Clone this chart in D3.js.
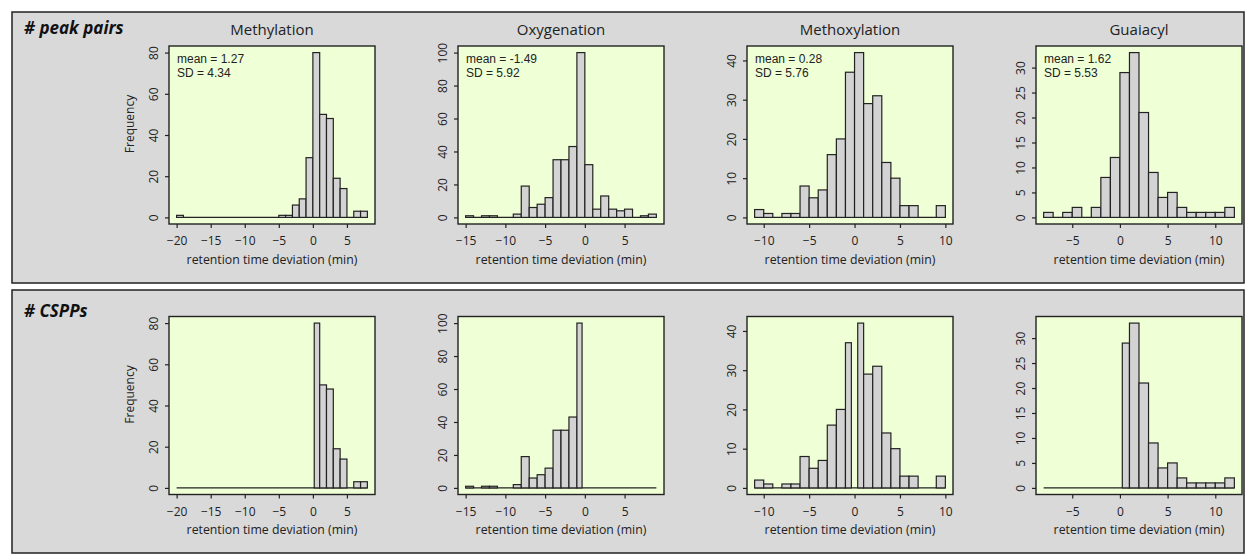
<!DOCTYPE html>
<html><head><meta charset="utf-8">
<script src="https://cdn.jsdelivr.net/npm/d3@7"></script>
<style>
body{margin:0;background:#fff;}
svg{display:block;}
text{fill:#222;}
</style>
</head><body>
<svg id="chart" width="1245" height="556" font-family="Open Sans, sans-serif"></svg>
<script>
// ---------- data ----------
const panelTitles = ["Methylation", "Oxygenation", "Methoxylation", "Guaiacyl"];
const rowLabels = ["# peak pairs", "# CSPPs"];
const meanLabels = ["1.27", "-1.49", "0.28", "1.62"];
const sdLabels = ["4.34", "5.92", "5.76", "5.53"];
const xTickValues = [[-20, -15, -10, -5, 0, 5], [-15, -10, -5, 0, 5], [-10, -5, 0, 5, 10], [-5, 0, 5, 10]];
const yTickValues = [[0, 20, 40, 60, 80], [0, 20, 40, 60, 80, 100], [0, 10, 20, 30, 40], [0, 5, 10, 15, 20, 25, 30]];
const xTitle = "retention time deviation (min)";
const yTitle = "Frequency";

// peak pairs: bin edges and counts
const pairsBreaks = [
  [-20,-19,-18,-17,-16,-15,-14,-13,-12,-11,-10,-9,-8,-7,-6,-5,-4,-3,-2,-1,0,1,2,3,4,5,6,7,8],
  [-15,-14,-13,-12,-11,-10,-9,-8,-7,-6,-5,-4,-3,-2,-1,0,1,2,3,4,5,6,7,8,9],
  [-11,-10,-9,-8,-7,-6,-5,-4,-3,-2,-1,0,1,2,3,4,5,6,7,8,9,10],
  [-8,-7,-6,-5,-4,-3,-2,-1,0,1,2,3,4,5,6,7,8,9,10,11,12]
];
const pairsCounts = [
  [1,0,0,0,0,0,0,0,0,0,0,0,0,0,0,1,1,6,9,29,80,50,48,19,14,0,3,3],
  [1,0,1,1,0,0,2,19,6,8,12,35,35,43,100,32,5,13,5,4,5,0,1,2],
  [2,1,0,1,1,8,5,7,16,20,37,42,29,31,14,10,3,3,0,0,3],
  [1,0,1,2,0,2,8,12,29,33,21,9,4,5,2,1,1,1,1,2]
];
// CSPPs: bin edges and counts
const csppBreaks = [
  [-20,0.2,1,2,3,4,5,6,7,8],
  [-15,-14,-13,-12,-11,-10,-9,-8,-7,-6,-5,-4,-3,-2,-1,-0.35,9],
  [-11,-10,-9,-8,-7,-6,-5,-4,-3,-2,-1,-0.35,0.35,1,2,3,4,5,6,7,8,9,10],
  [-8,0.25,1,2,3,4,5,6,7,8,9,10,11,12]
];
const csppCounts = [
  [0,80,50,48,19,14,0,3,3],
  [1,0,1,1,0,0,2,19,6,8,12,35,35,43,100,0],
  [2,1,0,1,1,8,5,7,16,20,37,0,42,29,31,14,10,3,3,0,0,3],
  [0,29,33,21,9,4,5,2,1,1,1,1,2]
];

// ---------- layout ----------
const svg = d3.select("#chart");
const ink = "#222";
const fmtMinus = d => d < 0 ? "\u2212" + Math.abs(d) : String(d);

const outer = [{y: 12, h: 271, ty: 22}, {y: 290, h: 263, ty: 27}];
outer.forEach((o, r) => {
  svg.append("rect").attr("x", 12).attr("y", o.y).attr("width", 1232).attr("height", o.h)
    .attr("fill", "#d9d9d9").attr("stroke", ink).attr("stroke-width", 1.5);
  svg.append("text").attr("x", 24).attr("y", o.y + o.ty)
    .attr("font-size", 17).attr("font-weight", 700).attr("font-style", "italic")
    .style("fill", "#111").text(rowLabels[r]);
});

const W = 206, H = 178;
const rows = [{breaks: pairsBreaks, counts: pairsCounts}, {breaks: csppBreaks, counts: csppCounts}];

rows.forEach((row, r) => {
  panelTitles.forEach((title, i) => {
    const x0 = 169 + i * 289, y0 = 46 + r * 270.5;
    const g = svg.append("g").attr("transform", `translate(${x0},${y0})`);
    const br = row.breaks[i], ct = row.counts[i];
    const lo = br[0], hi = br[br.length - 1];
    const m = d3.max(pairsCounts[i]);
    const x = d3.scaleLinear().domain([lo - 0.04 * (hi - lo), hi + 0.04 * (hi - lo)]).range([0, W]);
    const y = d3.scaleLinear().domain([-0.04 * m, 1.04 * m]).range([H, 0]);

    g.append("rect").attr("width", W).attr("height", H).attr("fill", "#efffd6");

    const bins = ct.map((c, k) => ({x0: br[k], x1: br[k + 1], c}));
    g.append("line").attr("x1", x(lo)).attr("x2", x(hi)).attr("y1", y(0)).attr("y2", y(0))
      .attr("stroke", ink).attr("stroke-width", 1.3);
    g.selectAll("rect.bar").data(bins.filter(b => b.c > 0)).join("rect").attr("class", "bar")
      .attr("x", d => x(d.x0)).attr("width", d => x(d.x1) - x(d.x0))
      .attr("y", d => y(d.c)).attr("height", d => y(0) - y(d.c))
      .attr("fill", "#d3d3d3").attr("stroke", ink).attr("stroke-width", 1.2);

    g.append("rect").attr("width", W).attr("height", H).attr("fill", "none")
      .attr("stroke", ink).attr("stroke-width", 1.4);

    const xa = g.append("g").attr("transform", `translate(0,${H})`)
      .call(d3.axisBottom(x).tickValues(xTickValues[i]).tickSize(4).tickPadding(8.5).tickFormat(fmtMinus));
    xa.attr("font-family", null).attr("font-size", null);
    xa.select(".domain").remove();
    xa.selectAll("line").attr("stroke", ink).attr("stroke-width", 1.2);
    xa.selectAll("text").attr("font-size", 12).style("fill", "#222");

    const ya = g.append("g").call(d3.axisLeft(y).tickValues(yTickValues[i]).tickSize(4).tickFormat(d3.format("d")));
    ya.attr("font-family", null).attr("font-size", null);
    ya.select(".domain").remove();
    ya.selectAll("line").attr("stroke", ink).attr("stroke-width", 1.2);
    ya.selectAll("text").attr("font-size", 12).style("fill", "#222")
      .attr("x", 0).attr("dy", 0).attr("text-anchor", "middle")
      .attr("transform", "translate(-11,0) rotate(-90)");

    g.append("text").attr("x", W / 2).attr("y", H + 39.5).attr("text-anchor", "middle")
      .attr("font-size", 12.3).text(xTitle);

    if (i === 0) {
      g.append("text").attr("transform", `translate(-35,${H / 2 - 11}) rotate(-90)`)
        .attr("text-anchor", "middle").attr("font-size", 12).text(yTitle);
    }
    if (r === 0) {
      g.append("text").attr("x", W / 2).attr("y", -11).attr("text-anchor", "middle")
        .attr("font-size", 15).text(title);
      g.append("text").attr("x", 8).attr("y", 17.3).attr("font-size", 12)
        .style("font-family", "'Liberation Sans', Arial, sans-serif").text("mean = " + meanLabels[i]);
      g.append("text").attr("x", 8).attr("y", 31.3).attr("font-size", 12)
        .style("font-family", "'Liberation Sans', Arial, sans-serif").text("SD = " + sdLabels[i]);
    }
  });
});
</script>
</body></html>
